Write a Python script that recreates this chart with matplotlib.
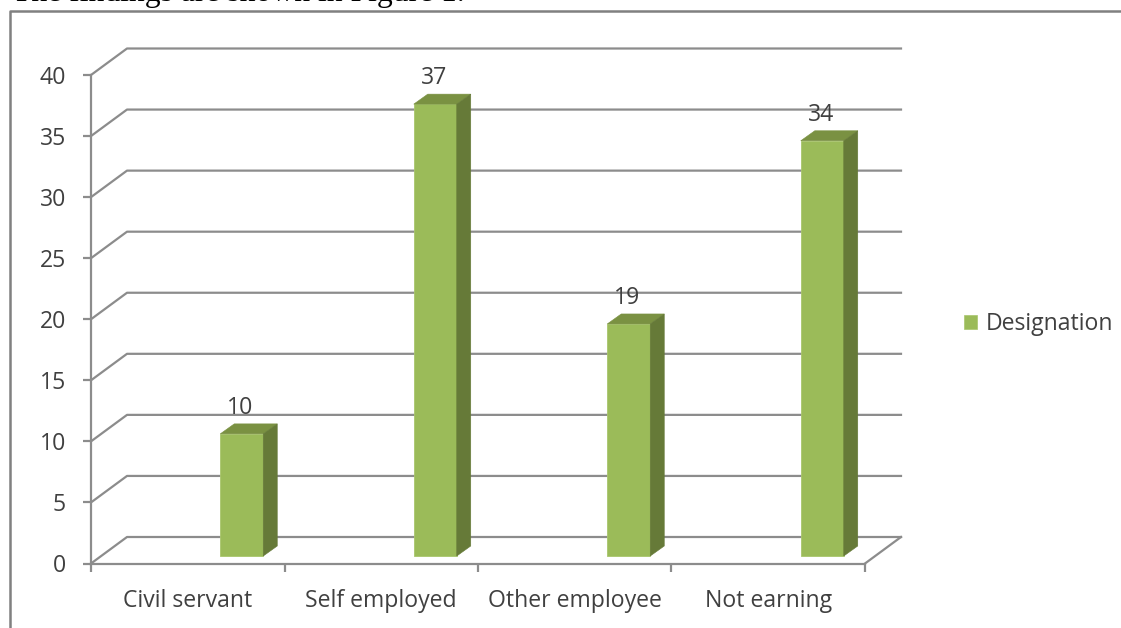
import matplotlib
matplotlib.use("Agg")
import matplotlib.pyplot as plt
from matplotlib.lines import Line2D
from matplotlib.patches import Polygon, Patch
from matplotlib.transforms import Affine2D

categories = ["Civil servant", "Self employed", "Other employee", "Not earning"]
values = [10, 37, 19, 34]
y_ticks = [0, 5, 10, 15, 20, 25, 30, 35, 40]
series_name = "Designation"
caption = "The findings are shown in Figure 1."

W, H, DPI = 1121, 628, 100
plt.rcParams["font.family"] = ["Open Sans", "DejaVu Sans"]
TEXT = "#404040"; GRID = "#8C8C8C"; FRONT = "#9BBB59"; SIDE = "#667A38"; FRAME = "#808080"
FS = 16.6

fig = plt.figure(figsize=(W / DPI, H / DPI), dpi=DPI, facecolor="white")
L, R, B, T = 91, 865, 563.5, 75
ax = fig.add_axes([L / W, 1 - B / H, (R - L) / W, (B - T) / H])
ax.set_xlim(0, len(categories))
ax.set_ylim(0, 40)
ax.patch.set_alpha(0)
for s in ("top", "right"):
    ax.spines[s].set_visible(False)
for s in ("left", "bottom"):
    ax.spines[s].set_color(GRID)
    ax.spines[s].set_linewidth(1.6)

ax.set_yticks(y_ticks)
ax.tick_params(axis="y", length=6, width=1.6, color=GRID, labelsize=FS, labelcolor=TEXT, pad=12)
ax.set_xticks(range(len(categories) + 1))
ax.set_xticklabels([])
ax.tick_params(axis="x", which="major", length=6, width=1.6, color=GRID)
ax.set_xticks([i + 0.5 for i in range(len(categories))], minor=True)
ax.set_xticklabels(categories, minor=True)
ax.tick_params(axis="x", which="minor", length=0, labelsize=FS, labelcolor=TEXT, pad=18.2)

# back wall / floor depth offset in pixels
DX, DY = 36, 26.5
depth = ax.transData + Affine2D().translate(DX, DY)
xmax = len(categories)
for v in y_ticks:
    p0 = ax.transData.transform((0, v))
    back = depth.transform((0, v))
    backr = depth.transform((xmax, v))
    fig.add_artist(Line2D([p0[0] / W, back[0] / W, backr[0] / W],
                          [p0[1] / H, back[1] / H, backr[1] / H],
                          color=GRID, lw=1.6, zorder=1))
p = ax.transData.transform((xmax, 0)); q = depth.transform((xmax, 0))
fig.add_artist(Line2D([p[0] / W, q[0] / W], [p[1] / H, q[1] / H], color=GRID, lw=1.6, zorder=1))

# bars
OX, OY = 54.0, 7.5
SX, SY = 14, 10
bw = 43 / ((R - L) / xmax)
shift = ax.transData + Affine2D().translate(OX, OY)
for i, v in enumerate(values):
    xc = i + 0.5
    ax.bar(xc, v, width=bw, color=FRONT, edgecolor="#A9C66C", linewidth=0.6, transform=shift, zorder=5, clip_on=False)
    x0, x1 = xc - bw / 2, xc + bw / 2
    a = shift.transform((x0, v)); b = shift.transform((x1, v)); c = shift.transform((x1, 0))
    top = [a, b, b + (SX, SY), a + (SX, SY)]
    side = [b, b + (SX, SY), c + (SX, SY), c]
    fig.add_artist(Polygon([(x / W, y / H) for x, y in top], closed=True, fc="#7A9142", ec="#7A9142", lw=0.4, zorder=6))
    fig.add_artist(Polygon([(x / W, y / H) for x, y in side], closed=True, fc=SIDE, ec=SIDE, lw=0.4, zorder=6))
    ax.annotate(str(v), xy=(xc, v), xycoords=shift, xytext=(-1, 18.8), textcoords="offset points",
                ha="center", va="center", fontsize=FS, color=TEXT, zorder=8, annotation_clip=False)
ax.set_zorder(3)

# legend
ax.legend(handles=[Patch(facecolor=FRONT, edgecolor="#A9C66C", linewidth=0.5, label=series_name)],
          loc="center left", bbox_to_anchor=(964 / W, 1 - 324 / H), bbox_transform=fig.transFigure,
          frameon=False, fontsize=FS, labelcolor=TEXT, handlelength=0.56, handleheight=0.56,
          handletextpad=0.38, borderpad=0, borderaxespad=0)

# page furniture: surrounding frame and clipped caption
fig.add_artist(Line2D([9.5 / W, 9.5 / W, 1], [0, 1 - 10.5 / H, 1 - 10.5 / H], color=FRAME, lw=1.8, zorder=2))
fig.text(12 / W, 1 - 1.5 / H, caption, family="Liberation Serif", fontsize=22.8, color="black", ha="left", va="baseline")

fig.savefig("out.png", dpi=DPI)
